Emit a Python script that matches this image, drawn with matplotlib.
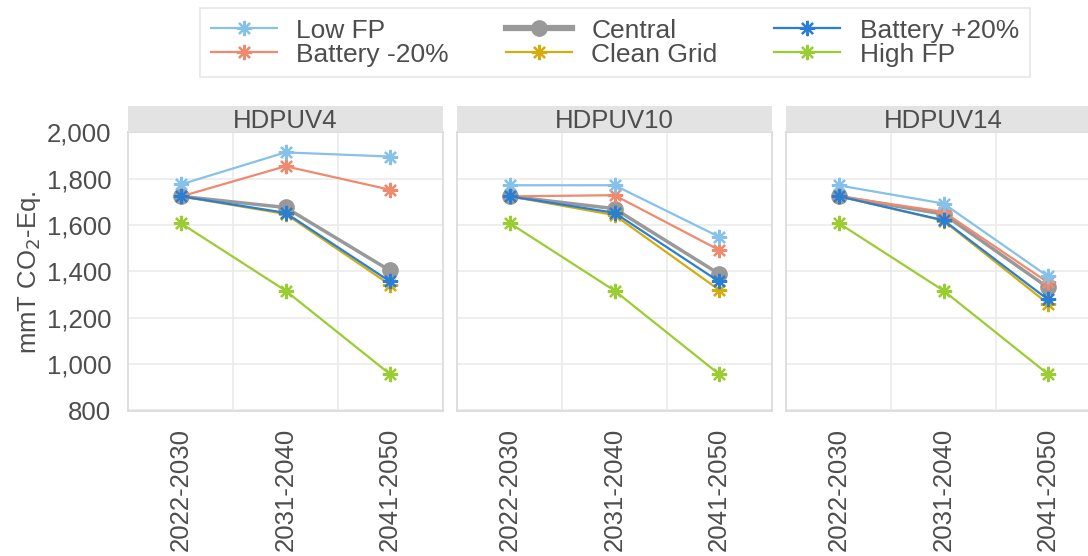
import matplotlib
matplotlib.use("Agg")
import matplotlib.pyplot as plt
from matplotlib.lines import Line2D
from matplotlib.ticker import FuncFormatter

plt.rcParams['font.family'] = ['Liberation Sans', 'DejaVu Sans']

periods = ["2022-2030", "2031-2040", "2041-2050"]
panels = ["HDPUV4", "HDPUV10", "HDPUV14"]

low_fp = [[1776, 1914, 1896], [1772, 1772, 1550], [1771, 1693, 1379]]
battery_m20 = [[1724, 1854, 1753], [1724, 1729, 1493], [1724, 1657, 1353]]
central = [[1724, 1676, 1404], [1724, 1671, 1390], [1724, 1647, 1331]]
battery_p20 = [[1724, 1653, 1357], [1724, 1653, 1357], [1724, 1621, 1279]]
clean_grid = [[1724, 1648, 1343], [1724, 1643, 1321], [1724, 1619, 1261]]
high_fp = [[1607, 1317, 957], [1607, 1317, 957], [1607, 1317, 957]]

c_low = "#85C1E9"
c_bm = "#F08A6E"
c_cen = "#999999"
c_bp = "#2A7FD4"
c_cg = "#D4AC0D"
c_hi = "#9ACD32"

star = (8, 2, 0)
txt = "#4D4D4D"
fs = 18.5

fig = plt.figure(figsize=(10.88, 5.56), dpi=100)
W, H = 1088, 556
x = [1, 2, 3]

for i, name in enumerate(panels):
    left = [128, 457, 786][i]
    ax = fig.add_axes([left / W, 1 - 411 / H, 315 / W, (411 - 132) / H])
    ax.set_xlim(0.49, 3.51)
    ax.set_ylim(797, 2002)
    ax.set_yticks([800, 1000, 1200, 1400, 1600, 1800, 2000])
    ax.set_xticks(x)
    ax.set_xticklabels(periods, rotation=90, fontsize=fs, color=txt)
    ax.yaxis.set_major_formatter(FuncFormatter(lambda v, p: f"{int(v):,}"))
    ax.tick_params(axis='both', length=0, labelsize=fs, colors=txt)
    ax.tick_params(axis='y', pad=12)
    ax.tick_params(axis='x', pad=12)
    if i > 0:
        ax.tick_params(axis='y', labelleft=False)
    for yv in [800, 1000, 1200, 1400, 1600, 1800, 2000]:
        ax.axhline(yv, color="#EBEBEB", lw=1.2, zorder=0)
    for xv in [1.5, 2.5]:
        ax.axvline(xv, color="#EBEBEB", lw=1.2, zorder=0)
    for s in ax.spines.values():
        s.set_color("#D9D9D9")
        s.set_linewidth(1.2)

    ax.plot(x, central[i], color=c_cen, lw=2.5, marker='o', ms=11, zorder=2)
    ax.plot(x, high_fp[i], color=c_hi, lw=1.6, marker=star, ms=11, mew=1.6, zorder=3)
    ax.plot(x, clean_grid[i], color=c_cg, lw=1.6, marker=star, ms=11, mew=1.6, zorder=3)
    ax.plot(x, battery_m20[i], color=c_bm, lw=1.6, marker=star, ms=11, mew=1.6, zorder=3)
    ax.plot(x, low_fp[i], color=c_low, lw=1.6, marker=star, ms=11, mew=1.6, zorder=3)
    ax.plot(x, battery_p20[i], color=c_bp, lw=1.6, marker=star, ms=11, mew=1.6, zorder=4)

    # strip
    sax = fig.add_axes([left / W, 1 - 132 / H, 315 / W, 26 / H])
    sax.set_facecolor("#E3E3E3")
    sax.set_xticks([]); sax.set_yticks([])
    for s in sax.spines.values():
        s.set_visible(False)
    sax.text(0.5, 0.42, name, ha='center', va='center', fontsize=fs, color=txt,
             transform=sax.transAxes)

fig.text(30 / W, 1 - 272 / H, "mmT CO$_2$-Eq.", rotation=90, ha='center', va='center',
         fontsize=fs, color=txt)

handles = [
    Line2D([], [], color=c_low, lw=1.6, marker=star, ms=11, mew=1.6),
    Line2D([], [], color=c_bm, lw=1.6, marker=star, ms=11, mew=1.6),
    Line2D([], [], color=c_cen, lw=4.5, marker='o', ms=11),
    Line2D([], [], color=c_cg, lw=1.6, marker=star, ms=11, mew=1.6),
    Line2D([], [], color=c_bp, lw=1.6, marker=star, ms=11, mew=1.6),
    Line2D([], [], color=c_hi, lw=1.6, marker=star, ms=11, mew=1.6),
]
labels = ["Low FP", "Battery -20%", "Central", "Clean Grid", "Battery +20%", "High FP"]
leg = fig.legend(handles, labels, ncol=3, loc='upper center',
                 bbox_to_anchor=(615 / W, 1 - 8 / H), frameon=True, fancybox=False,
                 fontsize=19, labelspacing=0.0, handlelength=2.5, handletextpad=0.75,
                 columnspacing=2.15, borderpad=0.4, borderaxespad=0.0, labelcolor=txt)
leg.get_frame().set_edgecolor("#E0E0E0")
leg.get_frame().set_linewidth(1.2)

fig.savefig("out.png", dpi=100)
